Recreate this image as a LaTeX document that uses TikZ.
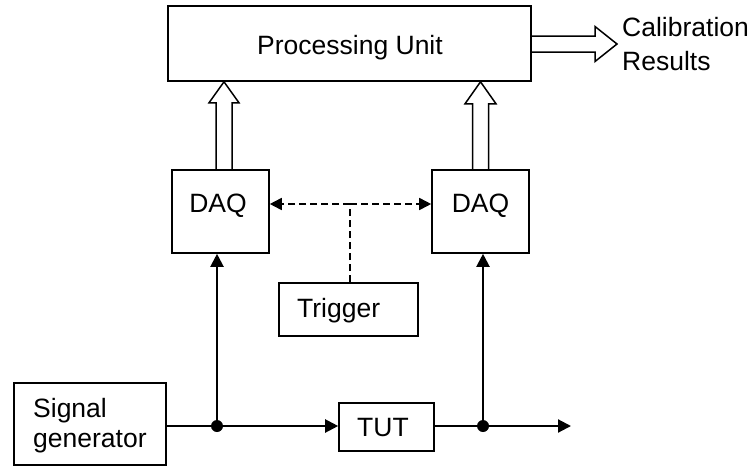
\documentclass[tikz,border=0pt]{standalone}
\usepackage{fontspec}
\setmainfont{Liberation Sans}
\usetikzlibrary{arrows.meta,calc}
\tikzset{
  box/.style={draw, line width=1.6pt, inner sep=0pt},
  txt/.style={inner sep=0pt, font=\fontsize{26.5}{30}\selectfont},
  sig/.style={line width=2.1pt},
  arr/.style={-{Triangle[length=13pt,width=13pt]}},
  dsh/.style={line width=1.7pt, dash pattern=on 7pt off 4pt},
  darr/.style={-{Triangle[length=12pt,width=12pt]}},
  hollow/.style={line width=1.5pt, line join=miter},
  dot/.style={fill=black},
}
\begin{document}
\begin{tikzpicture}[x=1pt,y=-1pt]
\useasboundingbox (0,0) rectangle (752,466);
% boxes
\node[box, minimum width=363pt, minimum height=75pt] (pu) at (349.5,43.5) {};
\node[box, minimum width=97pt, minimum height=83pt] (dq1) at (220.5,211.5) {};
\node[box, minimum width=97pt, minimum height=83pt] (dq2) at (480.5,211.5) {};
\node[box, minimum width=139pt, minimum height=53pt] (trig) at (348.5,309.5) {};
\node[box, minimum width=152pt, minimum height=82pt] (sg) at (90,424) {};
\node[box, minimum width=95pt, minimum height=48pt] (tut) at (386.5,427) {};
% texts
\node[txt, anchor=base] (tpu) at (350,54) {Processing Unit};
\node[txt, anchor=base] (tdq1) at (218,212) {DAQ};
\node[txt, anchor=base] (tdq2) at (480.5,212) {DAQ};
\node[txt, anchor=base west] (ttr) at (297,317) {Trigger};
\node[txt, anchor=base west] (tsg1) at (33,417) {Signal};
\node[txt, anchor=base west] (tsg2) at (33,447) {generator};
\node[txt, anchor=base] (ttut) at (383,436) {TUT};
\node[txt, anchor=base west] (tcal1) at (622,36) {Calibration};
\node[txt, anchor=base west] (tcal2) at (622,70) {Results};
% signal path
\coordinate (j1) at (217,426);
\coordinate (j2) at (483,426);
\coordinate (out) at (571,426);
\draw[sig] (sg.east |- j1) -- (j1);
\draw[sig,arr] (j1) -- (tut.west |- j1);
\draw[sig] (tut.east |- j2) -- (j2);
\draw[sig,arr] (j2) -- (out);
\draw[sig,arr] (j1) -- (j1 |- dq1.south);
\draw[sig,arr] (j2) -- (j2 |- dq2.south);
\fill[dot] (j1) circle (6pt);
\fill[dot] (j2) circle (6pt);
% trigger
\coordinate (tj) at (350,204);
\draw[dsh] (trig.north -| tj) -- (tj);
\draw[dsh,darr] (tj) -- (dq1.east |- tj);
\draw[dsh,darr] (tj) -- (dq2.west |- tj);
% hollow arrows up
\coordinate (h1s) at ($(dq1.north)+(3.5,0)$);
\coordinate (h1e) at (h1s |- pu.south);
\coordinate (h2s) at (dq2.north);
\coordinate (h2e) at (h2s |- pu.south);
\draw[hollow] let \p1=(h1s), \p2=(h1e) in
  (\x1-8pt,\y1) -- (\x1-8pt,\y2-21pt) -- (\x1-15pt,\y2-21pt) -- (\x1,\y2)
  -- (\x1+15pt,\y2-21pt) -- (\x1+8pt,\y2-21pt) -- (\x1+8pt,\y1);
\draw[hollow] let \p1=(h2s), \p2=(h2e) in
  (\x1-8pt,\y1) -- (\x1-8pt,\y2-22pt) -- (\x1-15.5pt,\y2-22pt) -- (\x1,\y2)
  -- (\x1+15.5pt,\y2-22pt) -- (\x1+8pt,\y2-22pt) -- (\x1+8pt,\y1);
% hollow arrow right
\coordinate (ce) at (617,44);
\draw[hollow] let \p1=(pu.east), \p2=(ce) in
  (\x1,\y2+8pt) -- (\x2-22pt,\y2+8pt) -- (\x2-22pt,\y2+17.5pt) -- (\x2,\y2)
  -- (\x2-22pt,\y2-17.5pt) -- (\x2-22pt,\y2-8pt) -- (\x1,\y2-8pt);
\end{tikzpicture}
\end{document}
